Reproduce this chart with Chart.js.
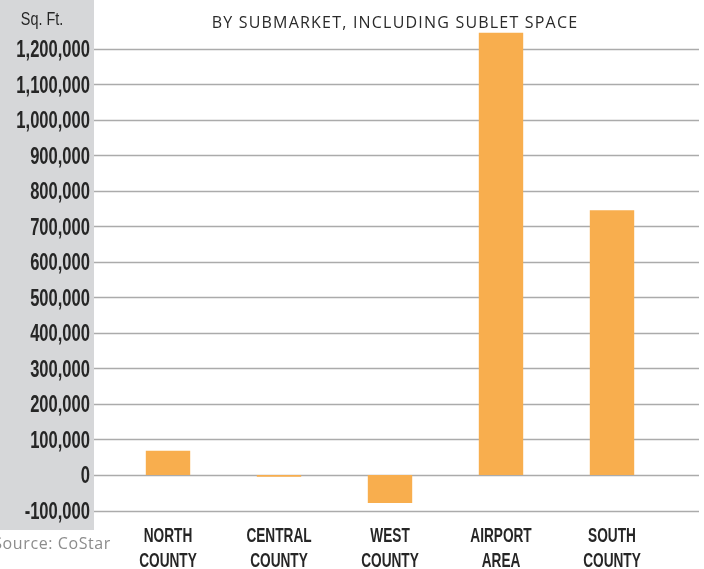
<!doctype html>
<html lang="en">
<head>
    <meta charset="UTF-8">
    <title>Net Absorption by Submarket</title>
    <script src="https://cdn.jsdelivr.net/npm/chart.js"></script>
    <style>
        html, body { margin: 0; padding: 0; background: #fff; }
        #chart { display: block; }
    </style>
</head>
<body>
<canvas id="chart" width="704" height="569"></canvas>

<script>
    // submarkets (two-line labels) and net absorption in sq. ft.
    var categories = [['NORTH', 'COUNTY'], ['CENTRAL', 'COUNTY'], ['WEST', 'COUNTY'], ['AIRPORT', 'AREA'], ['SOUTH', 'COUNTY']];
    var absorption = [68000, -5000, -79000, 1245000, 745000];

    // value axis
    var yMin = -100000;
    var yMax = 1250000;
    var yTicks = [-100000, 0, 100000, 200000, 300000, 400000, 500000, 600000,
                  700000, 800000, 900000, 1000000, 1100000, 1200000];

    var titleText = 'BY SUBMARKET, INCLUDING SUBLET SPACE';
    var unitText = 'Sq. Ft.';
    var sourceText = 'Source: CoStar';

    var axisFont = "'Liberation Sans', Arial, sans-serif";
    var roundFont = "'Open Sans', 'Lato', sans-serif";

    // draws text squeezed horizontally, for the condensed axis lettering
    function narrowText(c, text, x, y, squeeze) {
        c.save();
        c.translate(x, y);
        c.scale(squeeze, 1);
        c.fillText(text, 0, 0);
        c.restore();
    }

    // grey band, extended grid lines, axis lettering, title and notes
    var decorations = {
        id: 'decorations',
        beforeDraw: function (chart) {
            var c = chart.ctx;
            c.save();
            c.fillStyle = '#d6d7d9';
            c.fillRect(0, 0, 94, 530);

            var y = chart.scales.y;
            c.strokeStyle = '#ababab';
            c.lineWidth = 1.5;
            yTicks.forEach(function (v) {
                var py = Math.round(y.getPixelForValue(v)) + 0.5;
                c.beginPath();
                c.moveTo(94, py);
                c.lineTo(699, py);
                c.stroke();
            });
            c.restore();
        },
        afterDraw: function (chart) {
            var c = chart.ctx;
            var x = chart.scales.x;
            var y = chart.scales.y;
            c.save();
            c.fillStyle = '#262626';
            c.textBaseline = 'alphabetic';

            // value labels
            c.textAlign = 'right';
            c.font = 'bold 23px ' + axisFont;
            yTicks.forEach(function (v) {
                narrowText(c, v.toLocaleString('en-US'), 90, y.getPixelForValue(v) + 8.5, 0.72);
            });

            c.textAlign = 'center';
            c.font = '18px ' + axisFont;
            narrowText(c, unitText, 42, 25, 0.8);

            // submarket labels
            c.font = 'bold 21px ' + axisFont;
            categories.forEach(function (lines, i) {
                var px = x.getPixelForTick(i);
                lines.forEach(function (line, j) {
                    narrowText(c, line, px, x.top + 31 + j * 25.5, 0.65);
                });
            });

            c.fillStyle = '#2a2a2a';
            c.font = '16px ' + roundFont;
            c.letterSpacing = '1.2px';
            c.fillText(titleText, 395, 28);

            c.fillStyle = '#8c8c8c';
            c.textAlign = 'right';
            c.font = '16px ' + roundFont;
            c.letterSpacing = '0.6px';
            c.fillText(sourceText, 111, 549);
            c.restore();
        }
    };

    new Chart(document.getElementById('chart'), {
        type: 'bar',
        data: {
            labels: categories,
            datasets: [{
                data: absorption,
                backgroundColor: '#f8ae4e',
                borderWidth: 0,
                barPercentage: 0.4,
                categoryPercentage: 1
            }]
        },
        options: {
            responsive: false,
            animation: false,
            layout: { padding: { top: 31, right: 36.5, left: 0, bottom: 0 } },
            plugins: {
                legend: { display: false },
                tooltip: { enabled: false }
            },
            scales: {
                x: {
                    offset: true,
                    grid: { display: false, drawTicks: false },
                    border: { display: false },
                    ticks: { display: false },
                    afterFit: function (scale) { scale.height = 58.5; }
                },
                y: {
                    min: yMin,
                    max: yMax,
                    grid: { display: false, drawTicks: false },
                    border: { display: false },
                    ticks: { display: false },
                    afterBuildTicks: function (scale) {
                        scale.ticks = yTicks.map(function (v) { return { value: v }; });
                    },
                    afterFit: function (scale) { scale.width = 112.5; }
                }
            }
        },
        plugins: [decorations]
    });
</script>
</body>
</html>
